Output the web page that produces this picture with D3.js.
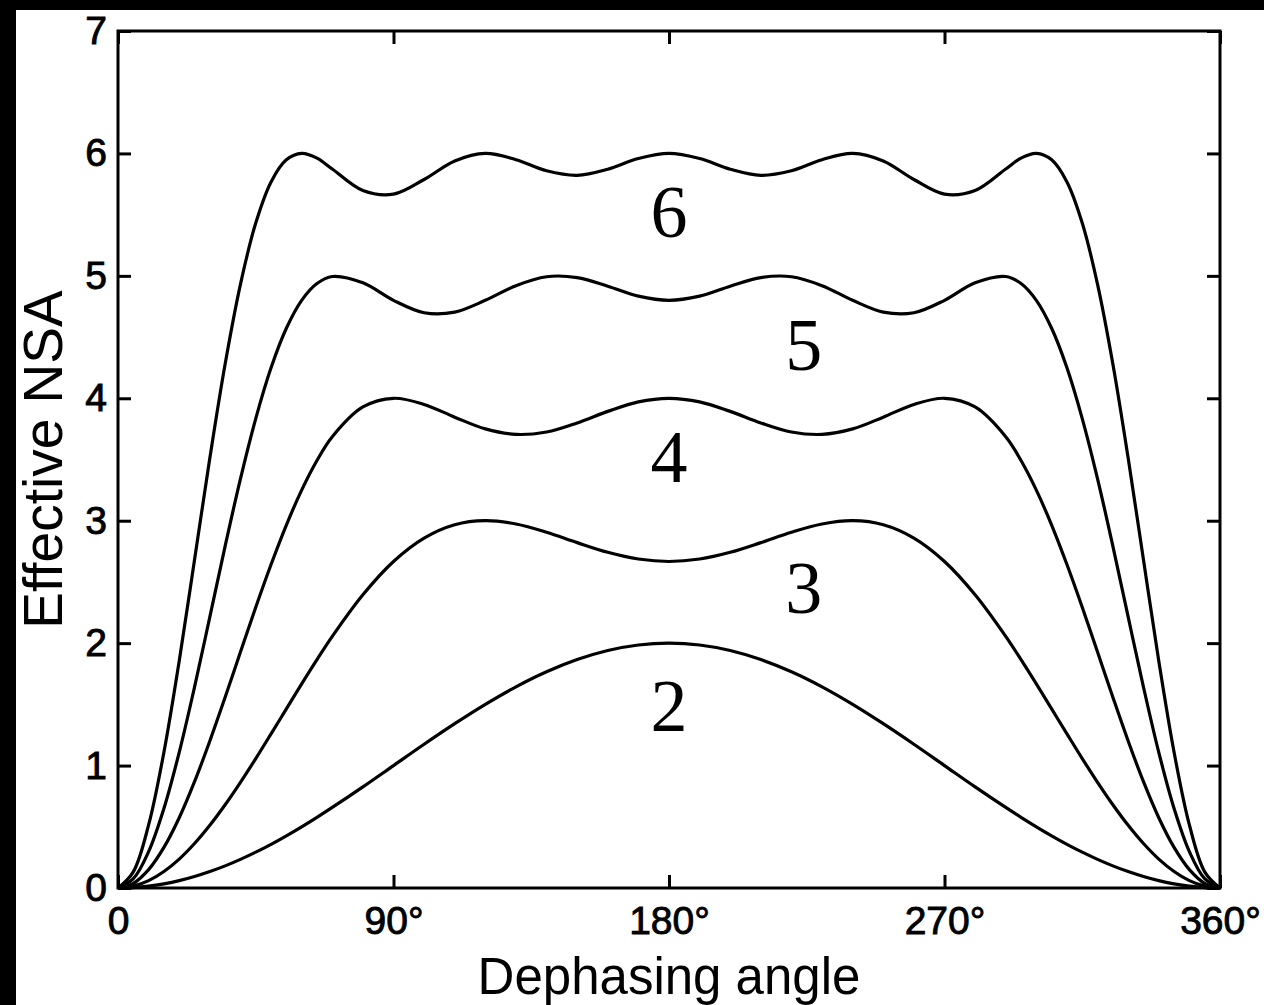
<!DOCTYPE html>
<html>
<head>
<meta charset="utf-8">
<script src="https://cdn.jsdelivr.net/npm/d3@7"></script>
<style>
  html, body { margin: 0; padding: 0; background: #fff; }
  svg { display: block; }
</style>
</head>
<body>
<div id="chart"></div>
<script>
// dephasing angle samples (degrees), denser where the curves climb steeply
var angles = [0, 5, 10, 15, 20, 25, 30, 35, 40, 45, 50, 55, 60, 65, 70,
              80, 90, 100, 110, 120, 130, 140, 150, 160, 170, 180, 190, 200, 210, 220, 230, 240, 250, 260, 270, 280,
              290, 295, 300, 305, 310, 315, 320, 325, 330, 335, 340, 345, 350, 355, 360];

// effective NSA, one list per number of averages
var nsa2 = [0, 0.0038, 0.015, 0.0341, 0.060, 0.0937, 0.134, 0.1808, 0.234, 0.2929, 0.357, 0.4264, 0.5, 0.5774, 0.658,
            0.826, 1, 1.174, 1.342, 1.5, 1.643, 1.766, 1.866, 1.940, 1.985, 2, 1.985, 1.940, 1.866, 1.766, 1.643, 1.5, 1.342, 1.174, 1, 0.826,
            0.658, 0.5774, 0.5, 0.4264, 0.357, 0.2929, 0.234, 0.1808, 0.134, 0.0937, 0.060, 0.0341, 0.015, 0.0038, 0];
var nsa3 = [0, 0.0152, 0.060, 0.1348, 0.236, 0.3631, 0.512, 0.6798, 0.863, 1.0572, 1.259, 1.4633, 1.667, 1.865, 2.055,
            2.395, 2.667, 2.858, 2.967, 3, 2.973, 2.906, 2.821, 2.742, 2.687, 2.667, 2.687, 2.742, 2.821, 2.906, 2.973, 3, 2.967, 2.858, 2.667, 2.395,
            2.055, 1.865, 1.667, 1.4633, 1.259, 1.0572, 0.863, 0.6798, 0.512, 0.3631, 0.236, 0.1348, 0.060, 0.0152, 0];
var nsa4 = [0, 0.0379, 0.150, 0.3315, 0.574, 0.8683, 1.201, 1.5587, 1.927, 2.2929, 2.642, 2.9646, 3.25, 3.4918, 3.686,
            3.929, 4, 3.950, 3.846, 3.75, 3.705, 3.725, 3.799, 3.893, 3.971, 4, 3.971, 3.893, 3.799, 3.725, 3.705, 3.75, 3.846, 3.950, 4, 3.929,
            3.686, 3.4918, 3.25, 2.9646, 2.642, 2.2929, 1.927, 1.5587, 1.201, 0.8683, 0.574, 0.3315, 0.150, 0.0379, 0];
var nsa5 = [0, 0.0758, 0.297, 0.6496, 1.108, 1.641, 2.214, 2.7924, 3.342, 3.8343, 4.249, 4.5719, 4.8, 4.9374, 4.995,
            4.943, 4.8, 4.699, 4.704, 4.8, 4.920, 4.993, 4.986, 4.915, 4.834, 4.8, 4.834, 4.915, 4.986, 4.993, 4.920, 4.8, 4.704, 4.699, 4.8, 4.943,
            4.995, 4.9374, 4.8, 4.5719, 4.249, 3.8343, 3.342, 2.7924, 2.214, 1.641, 1.108, 0.6496, 0.297, 0.0758, 0];
var nsa6 = [0, 0.1321, 0.515, 1.1087, 1.855, 2.6806, 3.512, 4.2803, 4.931, 5.431, 5.767, 5.9476, 6, 5.9613, 5.873,
            5.697, 5.667, 5.787, 5.938, 6, 5.949, 5.858, 5.821, 5.871, 5.958, 6, 5.958, 5.871, 5.821, 5.858, 5.949, 6, 5.938, 5.787, 5.667, 5.697,
            5.873, 5.9613, 6, 5.9476, 5.767, 5.431, 4.931, 4.2803, 3.512, 2.6806, 1.855, 1.1087, 0.515, 0.1321, 0];

var seriesNames = ["2", "3", "4", "5", "6"];
var seriesValues = [nsa2, nsa3, nsa4, nsa5, nsa6];

// where each curve's number sits (angle, value at the baseline)
var labelAngles = [180, 224, 180, 224, 180];
var labelValues = [1.28, 2.25, 3.32, 4.23, 5.32];

var xTicks = [0, 90, 180, 270, 360];
var xTickLabels = ["0", "90\u00b0", "180\u00b0", "270\u00b0", "360\u00b0"];
var yTicks = [0, 1, 2, 3, 4, 5, 6, 7];

var W = 1264, H = 1005;
var plotLeft = 118, plotRight = 1220, plotTop = 31, plotBottom = 888;

var svg = d3.select("#chart").append("svg")
    .attr("width", W)
    .attr("height", H);

svg.append("rect").attr("width", W).attr("height", H).attr("fill", "#fff");
// black strips round the scan
svg.append("rect").attr("x", 0).attr("y", 0).attr("width", W).attr("height", 10).attr("fill", "#000");
svg.append("rect").attr("x", 0).attr("y", 0).attr("width", 16).attr("height", H).attr("fill", "#000");

var x = d3.scaleLinear().domain([0, 360]).range([plotLeft, plotRight]);
var y = d3.scaleLinear().domain([0, 7]).range([plotBottom, plotTop]);

var font = "Liberation Sans, Arial, Helvetica, sans-serif";

function styleAxis(g) {
    g.select(".domain").remove();
    g.selectAll(".tick line").attr("stroke", "#000").attr("stroke-width", 3);
    g.selectAll(".tick text")
        .attr("fill", "#000")
        .attr("stroke", "#000")
        .attr("stroke-width", 0.9)
        .style("font-family", font)
        .style("font-size", "39px");
}

svg.append("g")
    .attr("transform", "translate(0," + plotBottom + ")")
    .call(d3.axisBottom(x).tickValues(xTicks).tickSize(-13).tickPadding(18)
        .tickFormat(function(d, i) { return xTickLabels[i]; }))
    .call(styleAxis);

svg.append("g")
    .attr("transform", "translate(0," + plotTop + ")")
    .call(d3.axisTop(x).tickValues(xTicks).tickSize(-13).tickFormat(""))
    .call(styleAxis);

svg.append("g")
    .attr("transform", "translate(" + plotLeft + ",0)")
    .call(d3.axisLeft(y).tickValues(yTicks).tickSize(-13).tickPadding(11)
        .tickFormat(d3.format("d")))
    .call(styleAxis);

svg.append("g")
    .attr("transform", "translate(" + plotRight + ",0)")
    .call(d3.axisRight(y).tickValues(yTicks).tickSize(-13).tickFormat(""))
    .call(styleAxis);

// frame
svg.append("rect")
    .attr("x", plotLeft).attr("y", plotTop)
    .attr("width", plotRight - plotLeft).attr("height", plotBottom - plotTop)
    .attr("fill", "none").attr("stroke", "#000").attr("stroke-width", 3);

var line = d3.line()
    .curve(d3.curveCatmullRom.alpha(0.5))
    .x(function(d, i) { return x(angles[i]); })
    .y(function(d) { return y(d); });

svg.selectAll("path.curve")
    .data(seriesValues)
    .enter()
    .append("path")
    .attr("class", "curve")
    .attr("d", line)
    .attr("fill", "none")
    .attr("stroke", "#000")
    .attr("stroke-width", 3.2)
    .attr("stroke-linejoin", "round");

svg.selectAll("text.clabel")
    .data(seriesNames)
    .enter()
    .append("text")
    .attr("class", "clabel")
    .attr("x", function(d, i) { return x(labelAngles[i]); })
    .attr("y", function(d, i) { return y(labelValues[i]); })
    .attr("text-anchor", "middle")
    .style("font-family", "Liberation Serif, Times New Roman, serif")
    .style("font-size", "74px")
    .text(function(d) { return d; });

// axis titles
svg.append("text")
    .attr("x", (plotLeft + plotRight) / 2)
    .attr("y", 994)
    .attr("text-anchor", "middle")
    .style("font-family", font)
    .style("font-size", "51px")
    .text("Dephasing angle");

svg.append("text")
    .attr("transform", "translate(62," + (plotTop + plotBottom) / 2 + ") rotate(-90)")
    .attr("text-anchor", "middle")
    .style("font-family", font)
    .style("font-size", "55px")
    .text("Effective NSA");
</script>
</body>
</html>
